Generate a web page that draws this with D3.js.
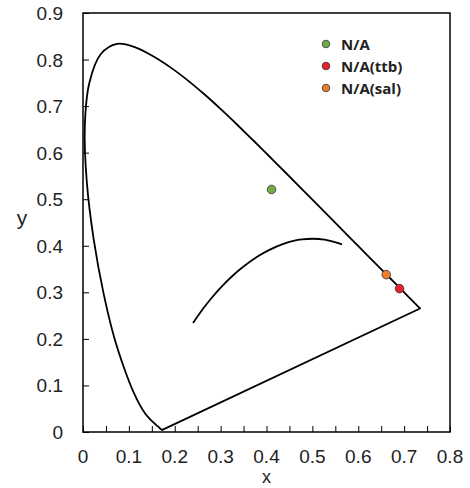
<!DOCTYPE html>
<html><head><meta charset="utf-8">
<script src="https://cdn.jsdelivr.net/npm/d3@7"></script>
<style>body{margin:0;background:#fff}</style>
</head><body>
<svg id="c" width="470" height="488"></svg>
<script>
// CIE 1931 spectral locus (380–700 nm, 5 nm steps)
const locusX = [0.1741,0.1740,0.1738,0.1736,0.1733,0.1730,0.1726,0.1721,0.1714,0.1703,0.1689,0.1669,0.1644,0.1611,0.1566,0.1510,0.1440,0.1355,0.1241,0.1096,0.0913,0.0687,0.0454,0.0235,0.0082,0.0039,0.0139,0.0389,0.0743,0.1142,0.1547,0.1929,0.2296,0.2658,0.3016,0.3373,0.3731,0.4087,0.4441,0.4788,0.5125,0.5448,0.5752,0.6029,0.6270,0.6482,0.6658,0.6801,0.6915,0.7006,0.7079,0.7140,0.7190,0.7230,0.7260,0.7283,0.7300,0.7311,0.7320,0.7327,0.7334,0.7340,0.7344,0.7346,0.7347];
const locusY = [0.0050,0.0050,0.0049,0.0049,0.0048,0.0048,0.0048,0.0048,0.0051,0.0058,0.0069,0.0086,0.0109,0.0138,0.0177,0.0227,0.0297,0.0399,0.0578,0.0868,0.1327,0.2007,0.2950,0.4127,0.5384,0.6548,0.7502,0.8120,0.8338,0.8262,0.8059,0.7816,0.7543,0.7243,0.6923,0.6589,0.6245,0.5896,0.5547,0.5202,0.4866,0.4544,0.4242,0.3965,0.3725,0.3514,0.3340,0.3197,0.3083,0.2993,0.2920,0.2859,0.2809,0.2770,0.2740,0.2717,0.2700,0.2689,0.2680,0.2673,0.2666,0.2660,0.2656,0.2654,0.2653];
// Planckian locus (1667 K ... infinity)
const planckX = [0.5646,0.5267,0.4770,0.4369,0.4053,0.3805,0.3451,0.3221,0.3064,0.2952,0.2807,0.2637,0.2565,0.2399];
const planckY = [0.4029,0.4133,0.4137,0.4041,0.3907,0.3768,0.3516,0.3318,0.3166,0.3048,0.2884,0.2674,0.2577,0.2342];
// Samples
const seriesNames = ["N/A","N/A(ttb)","N/A(sal)"];
const seriesX = [0.411,0.690,0.661];
const seriesY = [0.521,0.308,0.338];
const seriesColors = ["#70ad47","#e8212b","#ed7d31"];
const xTicks = [0,0.1,0.2,0.3,0.4,0.5,0.6,0.7,0.8];
const yTicks = [0,0.1,0.2,0.3,0.4,0.5,0.6,0.7,0.8,0.9];

const svg = d3.select("#c");
const L=83,R=450,T=13,B=432;
const x = d3.scaleLinear().domain([0,0.8]).range([L,R]);
const y = d3.scaleLinear().domain([0,0.9]).range([B,T]);
const font = "'Liberation Sans', Arial, sans-serif";

// minor x ticks every 0.05
const xMinor = d3.range(0,0.801,0.05);
const xa = svg.append("g").attr("transform",`translate(0,${B})`)
  .call(d3.axisBottom(x).tickValues(xMinor).tickSize(-6).tickFormat(""));
xa.select(".domain").remove();
xa.selectAll("line").attr("stroke","#000").attr("stroke-width",1);
const ya = svg.append("g").attr("transform",`translate(${L},0)`)
  .call(d3.axisLeft(y).tickValues(yTicks).tickSize(-6).tickFormat(""));
ya.select(".domain").remove();
ya.selectAll("line").attr("stroke","#000").attr("stroke-width",1);

// tick labels
svg.append("g").selectAll("text").data(xTicks).join("text")
  .attr("x",d=>x(d)).attr("y",B+31).attr("text-anchor","middle")
  .attr("font-family",font).attr("font-size",19).attr("fill","#222")
  .text(d=>d===0?"0":d3.format(".1f")(d));
svg.append("g").selectAll("text").data(yTicks).join("text")
  .attr("x",L-20).attr("y",d=>y(d)+7).attr("text-anchor","end")
  .attr("font-family",font).attr("font-size",19).attr("fill","#222")
  .text(d=>d===0?"0":d3.format(".1f")(d));

svg.append("text").attr("x",(L+R)/2).attr("y",483).attr("text-anchor","middle")
  .attr("font-family",font).attr("font-size",18).attr("fill","#222").text("x");
svg.append("text").attr("x",22).attr("y",225).attr("text-anchor","middle")
  .attr("font-family",font).attr("font-size",21).attr("fill","#222").text("y");

// frame
svg.append("rect").attr("x",L).attr("y",T).attr("width",R-L).attr("height",B-T)
  .attr("fill","none").attr("stroke","#000").attr("stroke-width",1.5);

// spectral locus (smooth) + line of purples
const locus = locusX.map((v,i)=>[v,locusY[i]]);
const smooth = d3.line().x(d=>x(d[0])).y(d=>y(d[1])).curve(d3.curveCatmullRom);
svg.append("path").datum(locus)
  .attr("d",smooth).attr("fill","none").attr("stroke","#000").attr("stroke-width",1.8)
  .attr("stroke-linejoin","round");
svg.append("path").datum([locus[locus.length-1],locus[0]])
  .attr("d",d3.line().x(d=>x(d[0])).y(d=>y(d[1]))).attr("fill","none").attr("stroke","#000").attr("stroke-width",1.8)
  .attr("stroke-linecap","round");
// planckian locus
const planck = planckX.map((v,i)=>[v,planckY[i]]);
svg.append("path").datum(planck)
  .attr("d",smooth).attr("fill","none").attr("stroke","#000").attr("stroke-width",1.8);

// points
svg.append("g").selectAll("circle").data(seriesX).join("circle")
  .attr("cx",d=>x(d)).attr("cy",(d,i)=>y(seriesY[i])).attr("r",4.3)
  .attr("fill",(d,i)=>seriesColors[i]).attr("stroke","#333").attr("stroke-width",0.8);

// legend
const lg = svg.append("g");
seriesNames.forEach((n,i)=>{
  lg.append("circle").attr("cx",326).attr("cy",44+i*22).attr("r",3.8)
    .attr("fill",seriesColors[i]).attr("stroke","#333").attr("stroke-width",0.8);
  lg.append("text").attr("x",341).attr("y",50+i*22)
    .attr("font-family","'Open Sans', sans-serif").attr("font-weight","bold")
    .attr("font-size",15).attr("fill","#222").text(n);
});
</script>
</body></html>
